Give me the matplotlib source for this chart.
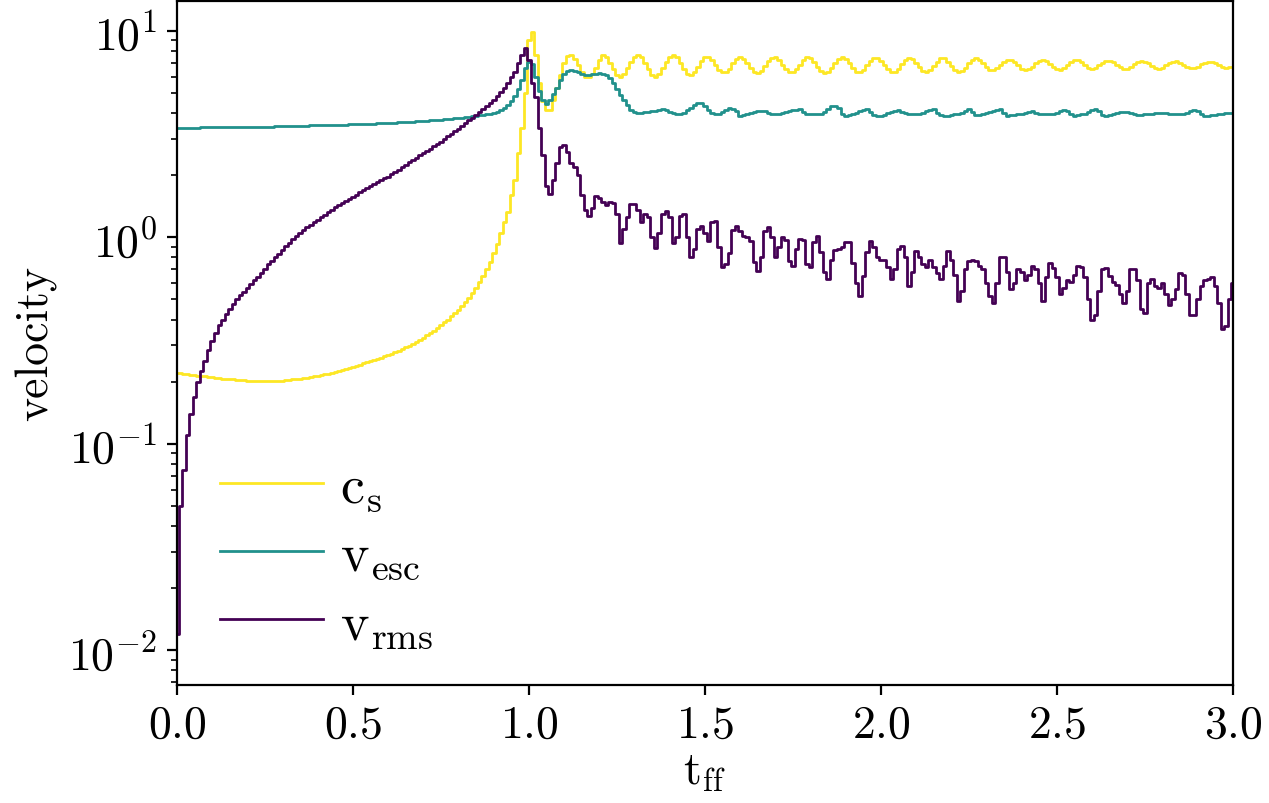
import numpy as np
import matplotlib
matplotlib.use('Agg')
import matplotlib.pyplot as plt

# Config
plt.rcParams['font.family'] = 'serif'
plt.rcParams['font.serif'] = ['cmr10']
plt.rcParams['mathtext.fontset'] = 'cm'
plt.rcParams['axes.formatter.use_mathtext'] = True
plt.rcParams['font.size'] = 16.5

# sample times (free-fall units), one sample every 0.01
t_ff = np.linspace(0.0, 3.0, 301)

# sound speed
c_s = [
    0.221, 0.220, 0.218, 0.217, 0.216, 0.215, 0.214, 0.213, 0.212, 0.211,
    0.210, 0.209, 0.208, 0.207, 0.206, 0.205, 0.205, 0.204, 0.203, 0.203,
    0.202, 0.202, 0.202, 0.201, 0.201, 0.201, 0.201, 0.201, 0.201, 0.202,
    0.202, 0.203, 0.204, 0.205, 0.206, 0.207, 0.208, 0.209, 0.210, 0.212,
    0.213, 0.215, 0.217, 0.219, 0.221, 0.223, 0.226, 0.228, 0.231, 0.234,
    0.236, 0.239, 0.242, 0.245, 0.248, 0.251, 0.254, 0.258, 0.261, 0.265,
    0.269, 0.273, 0.278, 0.283, 0.288, 0.293, 0.299, 0.305, 0.312, 0.319,
    0.327, 0.335, 0.344, 0.353, 0.363, 0.375, 0.387, 0.400, 0.414, 0.430,
    0.447, 0.465, 0.485, 0.51, 0.54, 0.57, 0.61, 0.65, 0.70, 0.76,
    0.84, 0.93, 1.05, 1.18, 1.32, 1.6, 1.9, 2.55, 3.4, 5.0,
    9.0, 9.9, 7.6, 5.6, 4.55, 4.15, 4.15, 4.6, 5.3, 6.1,
    7.0, 7.55, 7.6, 7.3, 6.8, 6.3, 6.0, 5.95, 6.2, 6.6,
    7.2, 7.6, 7.45, 7.0, 6.5, 6.1, 6.0, 6.2, 6.6, 7.1,
    7.5, 7.65, 7.45, 7.0, 6.5, 6.1, 6.0, 6.2, 6.6, 7.1,
    7.5, 7.65, 7.45, 7.0, 6.55, 6.2, 6.1, 6.3, 6.7, 7.15,
    7.5, 7.5, 7.2, 6.8, 6.45, 6.3, 6.3, 6.55, 6.95, 7.3,
    7.45, 7.3, 6.95, 6.6, 6.35, 6.26, 6.4, 6.75, 7.15, 7.4,
    7.45, 7.2, 6.85, 6.5, 6.3, 6.3, 6.5, 6.85, 7.2, 7.45,
    7.35, 7.05, 6.7, 6.4, 6.28, 6.35, 6.6, 6.95, 7.3, 7.45,
    7.3, 6.95, 6.6, 6.35, 6.3, 6.45, 6.8, 7.15, 7.4, 7.4,
    7.15, 6.8, 6.5, 6.33, 6.35, 6.55, 6.9, 7.25, 7.42, 7.3,
    7.0, 6.65, 6.4, 6.33, 6.45, 6.75, 7.1, 7.38, 7.35, 7.1,
    6.75, 6.45, 6.35, 6.4, 6.6, 6.95, 7.25, 7.38, 7.25, 6.95,
    6.65, 6.45, 6.45, 6.6, 6.85, 7.1, 7.25, 7.25, 7.05, 6.8,
    6.55, 6.45, 6.5, 6.7, 6.95, 7.15, 7.25, 7.15, 6.9, 6.65,
    6.5, 6.48, 6.6, 6.8, 7.05, 7.2, 7.22, 7.05, 6.8, 6.6,
    6.52, 6.6, 6.8, 7.0, 7.15, 7.18, 7.05, 6.85, 6.65, 6.55,
    6.55, 6.7, 6.9, 7.05, 7.15, 7.1, 6.95, 6.75, 6.6, 6.55,
    6.62, 6.8, 6.98, 7.1, 7.12, 7.0, 6.82, 6.68, 6.6, 6.6,
    6.7, 6.88, 7.02, 7.1, 7.08, 6.95, 6.8, 6.68, 6.62, 6.65,
    6.7,
]

# escape velocity
v_esc = [
    3.40, 3.40, 3.40, 3.40, 3.40, 3.40, 3.40, 3.41, 3.41, 3.41,
    3.41, 3.41, 3.41, 3.42, 3.42, 3.42, 3.42, 3.42, 3.43, 3.43,
    3.43, 3.43, 3.43, 3.44, 3.44, 3.44, 3.44, 3.44, 3.45, 3.45,
    3.45, 3.45, 3.46, 3.46, 3.46, 3.47, 3.47, 3.47, 3.48, 3.48,
    3.48, 3.49, 3.49, 3.49, 3.50, 3.50, 3.51, 3.51, 3.51, 3.52,
    3.52, 3.53, 3.53, 3.54, 3.54, 3.55, 3.55, 3.56, 3.57, 3.57,
    3.58, 3.59, 3.59, 3.60, 3.61, 3.62, 3.63, 3.63, 3.64, 3.65,
    3.66, 3.67, 3.68, 3.69, 3.70, 3.71, 3.73, 3.74, 3.75, 3.77,
    3.78, 3.80, 3.81, 3.83, 3.85, 3.87, 3.89, 3.91, 3.94, 3.97,
    4.01, 4.06, 4.13, 4.22, 4.35, 4.55, 4.85, 5.25, 5.8, 6.6,
    7.1, 6.9, 6.0, 5.1, 4.6, 4.4, 4.6, 4.95, 5.3, 5.75,
    6.15, 6.4, 6.45, 6.4, 6.3, 6.15, 6.1, 6.1, 6.15, 6.2,
    6.25, 6.2, 6.1, 5.9, 5.6, 5.25, 4.9, 4.6, 4.35, 4.15,
    4.05, 4.0, 4.02, 4.03, 4.05, 4.07, 4.1, 4.15, 4.2, 4.15,
    4.05, 4.0, 3.95, 3.94, 4.0, 4.15, 4.25, 4.35, 4.45, 4.45,
    4.3, 4.15, 3.98, 3.94, 3.96, 4.05, 4.15, 4.24, 4.2, 4.1,
    3.88, 3.9, 3.95, 4.0, 4.05, 4.08, 4.1, 4.08, 4.0, 3.94,
    3.94, 3.96, 4.0, 4.05, 4.1, 4.12, 4.15, 4.16, 4.05, 3.96,
    3.94, 3.94, 3.95, 3.96, 4.05, 4.2, 4.3, 4.3, 4.25, 3.95,
    3.88, 3.9, 3.95, 4.0, 4.08, 4.15, 4.2, 4.05, 3.9, 3.85,
    3.88, 3.92, 3.98, 4.04, 4.08, 4.12, 4.05, 3.98, 3.96, 3.94,
    3.94, 3.96, 4.0, 4.08, 4.15, 4.18, 4.0, 3.9, 3.85, 3.86,
    3.9, 3.94, 3.96, 4.02, 4.1, 4.16, 4.05, 3.92, 3.9, 3.95,
    4.0, 4.04, 4.08, 4.14, 4.16, 4.0, 3.87, 3.9, 3.93, 3.95,
    3.97, 4.0, 4.04, 4.07, 4.02, 3.95, 3.94, 3.94, 3.94, 3.95,
    4.0, 4.08, 4.14, 4.1, 3.95, 3.87, 3.9, 3.94, 3.97, 4.05,
    4.12, 4.2, 4.1, 3.92, 3.87, 3.92, 3.97, 4.0, 4.03, 4.05,
    4.06, 4.0, 3.94, 3.9, 3.92, 3.94, 3.95, 3.97, 3.99, 4.0,
    4.0, 3.98, 3.95, 3.94, 3.94, 3.94, 3.95, 4.0, 4.08, 4.15,
    4.1, 3.95, 3.87, 3.87, 3.9, 3.93, 3.94, 3.96, 4.0, 4.02,
    4.0,
]

# rms velocity
v_rms = [
    0.012, 0.05, 0.075, 0.11, 0.14, 0.168, 0.2, 0.225, 0.253, 0.285,
    0.315, 0.345, 0.375, 0.40, 0.425, 0.45, 0.475, 0.50, 0.525, 0.545,
    0.57, 0.595, 0.62, 0.645, 0.67, 0.705, 0.74, 0.77, 0.80, 0.83,
    0.87, 0.905, 0.94, 0.98, 1.015, 1.05, 1.09, 1.12, 1.15, 1.18,
    1.21, 1.25, 1.28, 1.32, 1.36, 1.40, 1.44, 1.47, 1.50, 1.54,
    1.57, 1.61, 1.65, 1.69, 1.73, 1.77, 1.81, 1.85, 1.89, 1.93,
    1.97, 2.02, 2.07, 2.12, 2.19, 2.25, 2.31, 2.37, 2.43, 2.49,
    2.56, 2.62, 2.69, 2.76, 2.83, 2.91, 2.99, 3.08, 3.17, 3.26,
    3.36, 3.46, 3.57, 3.68, 3.80, 3.92, 4.05, 4.18, 4.32, 4.47,
    4.63, 4.82, 5.05, 5.3, 5.6, 5.95, 6.35, 6.95, 7.6, 8.3,
    7.2, 5.6, 4.8, 3.4, 2.5, 1.77, 1.62, 1.9, 2.3, 2.75,
    2.8, 2.6, 2.3, 2.2, 2.0, 1.6, 1.35, 1.27, 1.38, 1.58,
    1.55, 1.48, 1.44, 1.48, 1.47, 1.3, 0.94, 1.1, 1.25, 1.45,
    1.45, 1.35, 1.18, 1.29, 1.25, 1.0, 0.89, 1.05, 1.3, 1.34,
    1.25, 0.94, 1.0, 1.27, 1.3, 1.0, 0.8, 0.88, 1.1, 1.13,
    1.05, 0.96, 1.18, 1.2, 0.9, 0.72, 0.74, 0.84, 1.08, 1.13,
    1.07, 1.02, 1.0, 0.96, 0.76, 0.69, 0.8, 1.07, 1.12, 1.0,
    0.8, 0.9, 1.0, 0.97, 0.77, 0.73, 0.88, 0.98, 0.97, 0.74,
    0.72, 0.95, 1.02, 0.85, 0.68, 0.63, 0.78, 0.87, 0.88, 0.9,
    0.95, 0.95, 0.75, 0.6, 0.52, 0.65, 0.85, 0.96, 0.9, 0.8,
    0.78, 0.78, 0.72, 0.63, 0.7, 0.88, 0.91, 0.8, 0.58, 0.68,
    0.86, 0.8, 0.74, 0.72, 0.78, 0.72, 0.67, 0.63, 0.73, 0.86,
    0.78, 0.66, 0.49, 0.55, 0.7, 0.77, 0.78, 0.77, 0.73, 0.7,
    0.6, 0.52, 0.48, 0.6, 0.8, 0.8, 0.68, 0.56, 0.6, 0.7,
    0.68, 0.62, 0.66, 0.73, 0.7, 0.6, 0.49, 0.64, 0.75, 0.71,
    0.64, 0.53, 0.57, 0.62, 0.61, 0.66, 0.73, 0.72, 0.64, 0.5,
    0.4, 0.42, 0.55, 0.7, 0.71, 0.65, 0.61, 0.59, 0.53, 0.48,
    0.55, 0.7, 0.7, 0.62, 0.45, 0.43, 0.6, 0.63, 0.58, 0.57,
    0.6, 0.53, 0.47, 0.5, 0.56, 0.67, 0.66, 0.53, 0.42, 0.42,
    0.5, 0.58, 0.62, 0.63, 0.64, 0.58, 0.48, 0.36, 0.37, 0.5,
    0.6,
]

labels = [r'$\mathrm{c_s}$', r'$\mathrm{v_{esc}}$', r'$\mathrm{v_{rms}}$']
colors = ['#fde725', '#21918c', '#440154']

fig = plt.figure(figsize=(6.345, 4.02), dpi=200)
ax = fig.add_axes([0.1395, 0.1468, 0.8321, 0.8512])

for series, lab, col in zip([c_s, v_esc, v_rms], labels, colors):
    ax.plot(t_ff, series, color=col, lw=1.0, drawstyle='steps-mid', label=lab)

ax.set_yscale('log')
ax.set_xlim(0.0, 3.0)
ax.set_ylim(0.0068, 14.0)
ax.set_xlabel(r'$\mathrm{t_{ff}}$', labelpad=2)
ax.set_ylabel('velocity')

ax.legend(loc='lower left', frameon=False, fontsize=19.5, handlelength=1.9,
          handletextpad=0.32, labelspacing=0.35, borderaxespad=0.3,
          bbox_to_anchor=(0.005, -0.004))

fig.savefig('out.png', dpi=200)
